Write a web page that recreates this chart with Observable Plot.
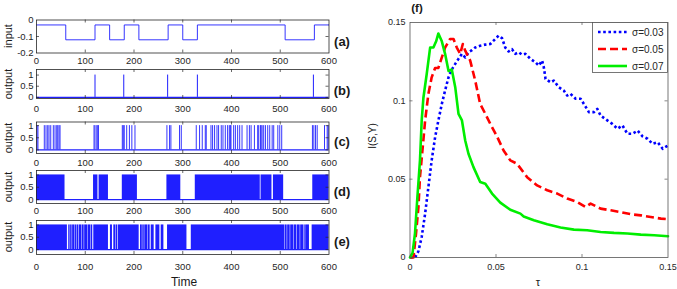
<!DOCTYPE html>
<html><head><meta charset="utf-8">
<script src="https://cdn.jsdelivr.net/npm/d3@7"></script>
<script src="https://cdn.jsdelivr.net/npm/@observablehq/plot@0.6"></script>
<style>
body{margin:0;background:#fff;}
#root{position:relative;width:677px;height:289px;overflow:hidden;font-family:"Liberation Sans",Arial,sans-serif;color:#1a1a1a;}
#root svg.plotsvg{position:absolute;left:0;top:0;}
.t{position:absolute;white-space:nowrap;line-height:1;}
</style></head><body><div id="root"></div>
<script>
// ---------- data ----------
const timeTicks = [0,100,200,300,400,500,600];
const inputTimes  = [0,60,120,150,180,210,270,300,330,510,570,600];
const inputValues = [-0.03,-0.12,-0.03,-0.12,-0.03,-0.12,-0.03,-0.12,-0.03,-0.12,-0.03,-0.03];
const spikesB = [120,179,269,330,568];
const spikesC = [1,3,16,19.5,23,25.7,29.2,34.5,38,41.5,43.6,46.2,48.3,118,120,123.7,125.8,127,176,178,180,185,190.6,195.6,202,267.5,273,275.7,293.4,297,327.7,334.5,340,346.2,348.2,357.9,361.2,365.3,370.2,373.5,379,382.5,387.3,392,395.5,397.6,399,404.4,408,412.6,416.8,421.6,431.9,436.7,440.2,447,453.7,455.8,459.3,460.7,462.8,466,469.6,474.3,478.4,483.4,486.6,495,499,503,566,568.9,572.4,575.8,590.8,596.3,598.4];
const burstStartD = [0,117,128.4,176,267.5,325.7,460.6,486,566.7];
const burstEndD   = [58.5,126,147.6,207,296,459,483,507,600];
const burstStartE = [0,66.1,70,74.1,78.9,83,87.8,93.3,98.8,105.6,111.8,117.5,151.7,158.6,163.9,168.1,213.3,218,222.1,228.9,235.3,244.9,255.8,268.8,317.5,509.7,515.2,521.4,528.2,535.1,541.9,548.8,552.2,565.4];
const burstEndE   = [63.4,69,73.1,78,82,86.8,92.3,97.8,104.6,110.8,115.4,147.6,155.8,163,166.8,210.6,217,221.1,228,233.2,241.4,253.1,261.3,308.6,508.7,514.2,520.4,527.2,534.1,540.9,547.8,551.2,559.9,600];

const tauTicks = [0,0.05,0.1,0.15];
const sigmaLabels = ["σ=0.03","σ=0.05","σ=0.07"];
const tau03 = [0,0.003,0.0049,0.0068,0.0088,0.0107,0.0126,0.0146,0.0165,0.0185,0.0204,0.0224,0.0243,0.0263,0.0282,0.0302,0.0321,0.034,0.036,0.0379,0.0408,0.0438,0.0467,0.0496,0.0515,0.0535,0.0554,0.0573,0.0593,0.0612,0.0632,0.0651,0.0671,0.07,0.0729,0.0749,0.0768,0.0778,0.0788,0.0817,0.0836,0.0865,0.0894,0.0914,0.0933,0.0963,0.0992,0.1011,0.104,0.107,0.1089,0.1108,0.1147,0.1176,0.1206,0.1235,0.1264,0.1294,0.1323,0.1352,0.1381,0.141,0.144,0.1469,0.15];
const I03   = [0,0,0.004,0.0131,0.028,0.045,0.062,0.0768,0.0875,0.098,0.1066,0.115,0.120,0.1236,0.1268,0.130,0.1277,0.131,0.1323,0.134,0.1352,0.1359,0.1363,0.1395,0.1416,0.14,0.134,0.1315,0.133,0.130,0.131,0.1295,0.130,0.1268,0.1246,0.1225,0.1257,0.1214,0.114,0.1118,0.1129,0.1087,0.1066,0.1034,0.1045,0.1013,0.1013,0.098,0.0928,0.0928,0.0949,0.0906,0.0875,0.0853,0.0822,0.0843,0.079,0.079,0.081,0.0773,0.0758,0.0726,0.0736,0.0694,0.0715];
const tau05 = [0,0.002,0.0035,0.0049,0.0058,0.0074,0.0088,0.0107,0.0126,0.0146,0.0165,0.0185,0.0204,0.0233,0.0253,0.0272,0.0292,0.0307,0.0321,0.035,0.0379,0.0408,0.0438,0.0467,0.0506,0.0544,0.0583,0.0622,0.0681,0.0739,0.0798,0.0856,0.0914,0.0973,0.1021,0.105,0.1108,0.1167,0.1225,0.1284,0.1342,0.14,0.1459,0.15];
const I05   = [0,0,0.0153,0.0322,0.0513,0.0704,0.0875,0.1045,0.115,0.121,0.121,0.1277,0.134,0.1395,0.1395,0.134,0.130,0.1363,0.132,0.1257,0.113,0.098,0.0917,0.0853,0.0772,0.0683,0.062,0.0599,0.0513,0.046,0.0429,0.0408,0.0376,0.0354,0.0322,0.0344,0.0312,0.0301,0.029,0.0276,0.0269,0.0259,0.0248,0.0244];
const tau07 = [0,0.0015,0.0029,0.0043,0.0058,0.0068,0.0078,0.0097,0.0117,0.0136,0.0152,0.0165,0.0185,0.0204,0.0224,0.0243,0.0263,0.0282,0.0302,0.0321,0.034,0.0369,0.0408,0.0438,0.0477,0.0525,0.0583,0.0642,0.0661,0.072,0.0798,0.0875,0.0953,0.103,0.1108,0.1186,0.1264,0.1342,0.142,0.15];
const I07   = [0,0.003,0.0153,0.0386,0.062,0.0875,0.102,0.117,0.134,0.134,0.138,0.143,0.138,0.130,0.119,0.120,0.1087,0.0917,0.0875,0.0747,0.0662,0.0577,0.0482,0.0471,0.0408,0.035,0.0305,0.028,0.0262,0.0238,0.0212,0.0191,0.0178,0.0174,0.0163,0.0157,0.0153,0.0146,0.0142,0.0136];

// ---------- layout ----------
const root = document.getElementById("root");
const H = 289;
const FONT = "'Liberation Sans', Arial, sans-serif";
const AX = "#262626";
const BLUE = "#1f1fff";

function leftPanel({top, bottom, yDomain, yTicks, pad, marks}) {
  const ph = bottom - top, L = 36, R = 328.5, pw = R - L;
  const inner = timeTicks.slice(1, -1);
  const innerY = yTicks.filter(v => v > yDomain[0] && v < yDomain[1]);
  return Plot.plot({
    width: 345, height: H,
    marginLeft: L, marginRight: 345 - R, marginTop: top, marginBottom: H - bottom,
    style: {background: "transparent", fontFamily: FONT, fontSize: "9.5px", color: AX, overflow: "visible"},
    x: {domain: [0, 600]},
    y: {domain: yDomain},
    marks: [
      ...marks,
      Plot.tickX(inner, {x: d => d, insetTop: ph - 3, stroke: AX, strokeWidth: 0.7}),
      Plot.tickX(inner, {x: d => d, insetBottom: ph - 3, stroke: AX, strokeWidth: 0.7}),
      Plot.tickY(innerY, {y: d => d, insetRight: pw - 3, stroke: AX, strokeWidth: 0.7}),
      Plot.tickY(innerY, {y: d => d, insetLeft: pw - 3, stroke: AX, strokeWidth: 0.7}),
      Plot.frame({stroke: AX, strokeWidth: 0.8}),
      Plot.axisX(timeTicks, {tickSize: 0, tickPadding: pad, label: null, tickFormat: d => String(d)}),
      Plot.axisY(yTicks, {tickSize: 0, tickPadding: 3, label: null, tickFormat: d => String(d)})
    ]
  });
}

const panels = [];
panels.push(leftPanel({top: 19.5, bottom: 52.5, yDomain: [-0.2, 0], yTicks: [-0.2, -0.1, 0], pad: 4,
  marks: [Plot.line(d3.zip(inputTimes, inputValues), {x: d => d[0], y: d => d[1], curve: "step-after", stroke: BLUE, strokeWidth: 0.9})]}));
panels.push(leftPanel({top: 69, bottom: 98, yDomain: [-0.05, 1.25], yTicks: [0, 0.5, 1], pad: 7,
  marks: [Plot.ruleY([0], {stroke: BLUE, strokeWidth: 1.2}), Plot.ruleX(spikesB, {x: d => d, y1: 0, y2: 1, stroke: BLUE, strokeWidth: 1})]}));
panels.push(leftPanel({top: 121.5, bottom: 153, yDomain: [-0.15, 1.15], yTicks: [0, 0.5, 1], pad: 5.5,
  marks: [Plot.ruleY([0], {stroke: BLUE, strokeWidth: 1.2}), Plot.ruleX(spikesC, {x: d => d, y1: 0, y2: 1, stroke: BLUE, strokeWidth: 0.9})]}));
panels.push(leftPanel({top: 170, bottom: 203, yDomain: [-0.16, 1.18], yTicks: [0, 0.5, 1], pad: 4,
  marks: [Plot.ruleY([0], {stroke: BLUE, strokeWidth: 1.2}),
          Plot.rect(d3.zip(burstStartD, burstEndD), {x1: d => d[0], x2: d => d[1], y1: 0, y2: 1, fill: BLUE})]}));
panels.push(leftPanel({top: 220, bottom: 254, yDomain: [-0.2, 1.18], yTicks: [0, 0.5, 1], pad: 8.5,
  marks: [Plot.ruleY([0], {stroke: BLUE, strokeWidth: 1.2}),
          Plot.rect(d3.zip(burstStartE, burstEndE), {x1: d => d[0], x2: d => d[1], y1: 0, y2: 1, fill: BLUE})]}));

// right panel
const seriesStyle = [
  {tau: tau03, I: I03, stroke: "#0000ff", dash: "2.6,2.6", width: 2.6},
  {tau: tau05, I: I05, stroke: "#ff0000", dash: "8,4", width: 2.6},
  {tau: tau07, I: I07, stroke: "#00ee00", dash: null, width: 2.6}
];
const RL = 409.5, RR = 667.5, RT = 22, RB = 257;
const rpw = RR - RL, rph = RB - RT;
const GR = "#555";
const rightMarks = seriesStyle.map(s => Plot.line(d3.zip(s.tau, s.I), {
  x: d => d[0], y: d => d[1], stroke: s.stroke, strokeWidth: s.width,
  strokeDasharray: s.dash, strokeLinejoin: "round", strokeLinecap: s.dash ? "butt" : "round"
}));
panels.push(Plot.plot({
  width: 677, height: H,
  marginLeft: RL, marginRight: 677 - RR, marginTop: RT, marginBottom: H - RB,
  style: {background: "transparent", fontFamily: FONT, fontSize: "9px", color: AX, overflow: "visible"},
  x: {domain: [0, 0.15]},
  y: {domain: [0, 0.15]},
  marks: [
    ...rightMarks,
    Plot.tickX(tauTicks.slice(1, -1), {x: d => d, insetTop: rph - 3, stroke: GR, strokeWidth: 0.7}),
    Plot.tickX(tauTicks.slice(1, -1), {x: d => d, insetBottom: rph - 3, stroke: GR, strokeWidth: 0.7}),
    Plot.tickY(tauTicks.slice(1, -1), {y: d => d, insetRight: rpw - 3, stroke: GR, strokeWidth: 0.7}),
    Plot.tickY(tauTicks.slice(1, -1), {y: d => d, insetLeft: rpw - 3, stroke: GR, strokeWidth: 0.7}),
    Plot.frame({stroke: GR, strokeWidth: 0.8}),
    Plot.axisX(tauTicks, {tickSize: 0, tickPadding: 6, label: null, tickFormat: d => String(d)}),
    Plot.axisY(tauTicks, {tickSize: 0, tickPadding: 4.5, label: null, tickFormat: d => String(d)})
  ]
}));

for (const p of panels) { p.classList.add("plotsvg"); root.appendChild(p); }

// text labels
function label(text, cx, cy, size, opts = {}) {
  const d = document.createElement("div");
  d.className = "t";
  d.textContent = text;
  d.style.fontSize = size + "px";
  d.style.left = cx + "px";
  d.style.top = cy + "px";
  d.style.transform = "translate(-50%,-50%)" + (opts.rotate ? " rotate(-90deg)" : "");
  if (opts.bold) d.style.fontWeight = "bold";
  root.appendChild(d);
}
label("input", 8, 36, 11, {rotate: true});
label("output", 8, 83.5, 11, {rotate: true});
label("output", 8, 137.5, 11, {rotate: true});
label("output", 8, 187, 11, {rotate: true});
label("output", 8, 237, 11, {rotate: true});
label("Time", 184, 282, 12);
const letters = ["(a)","(b)","(c)","(d)","(e)"];
const letterY = [41, 90, 141, 191, 241];
letters.forEach((s, i) => label(s, 342, letterY[i], 13, {bold: true}));
label("(f)", 417, 9, 11.5, {bold: true});
label("τ", 538, 282, 11);
label("I(S,Y)", 373, 136, 10, {rotate: true});

// legend
const leg = document.createElementNS("http://www.w3.org/2000/svg", "svg");
leg.setAttribute("width", 76); leg.setAttribute("height", 51);
leg.style.position = "absolute"; leg.style.left = "592px"; leg.style.top = "22px";
let html = `<rect x="0.5" y="0.5" width="75" height="50" fill="white" stroke="${GR}" stroke-width="0.8"/>`;
seriesStyle.forEach((s, i) => {
  const y = 10 + i * 17;
  html += `<line x1="6" x2="35" y1="${y}" y2="${y}" stroke="${s.stroke}" stroke-width="${s.width}" ${s.dash ? `stroke-dasharray="${s.dash}"` : ""}/>`;
  html += `<text x="40" y="${y}" dy="0.35em" font-size="10" font-family="${FONT}" fill="${AX}">${sigmaLabels[i]}</text>`;
});
leg.innerHTML = html;
root.appendChild(leg);
</script></body></html>
